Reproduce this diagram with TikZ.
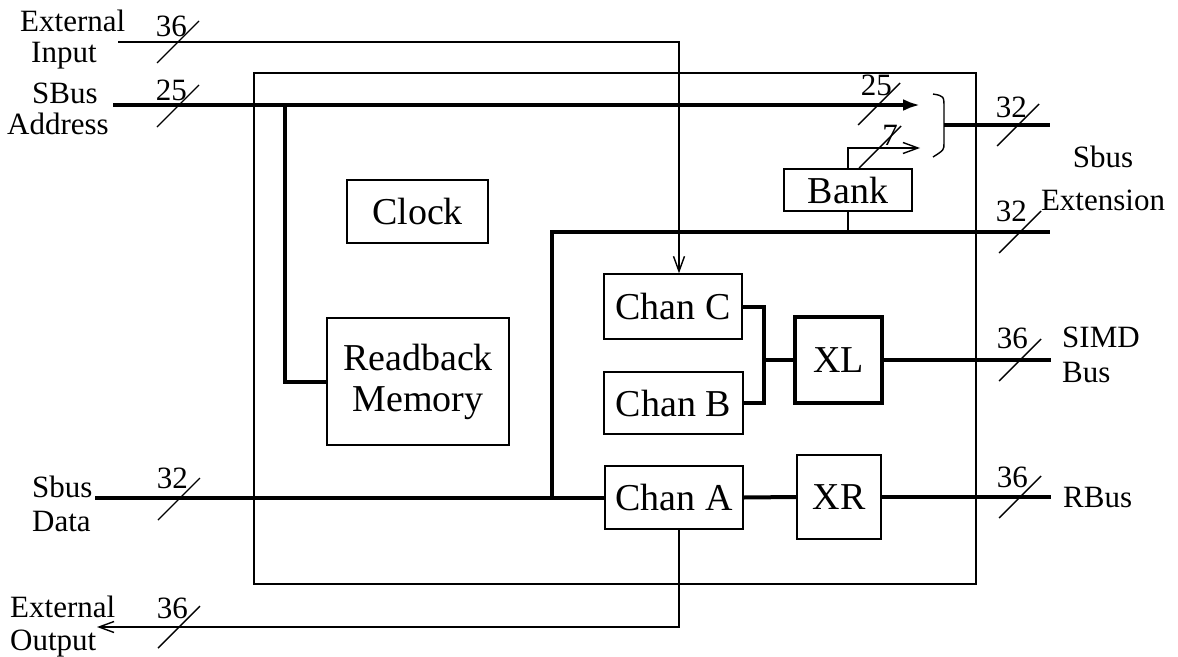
\documentclass[tikz,border=0pt]{standalone}
\usepackage{fontspec}
\setmainfont{Liberation Serif}
\usetikzlibrary{arrows.meta}
\begin{document}
\begin{tikzpicture}[x=1pt,y=-1pt,
  thinline/.style={line width=1.4pt},
  bus/.style={line width=4pt},
  blk/.style={draw,line width=1.4pt,inner sep=0pt,font=\fontsize{38}{41}\selectfont},
  lbl/.style={inner sep=0pt,font=\fontsize{31}{31}\selectfont},
  barb/.style={-{Straight Barb[length=15pt,width=11pt,line width=1.4pt]}},
  fattip/.style={-{Latex[length=17pt,width=12pt]}},
]
\useasboundingbox (0,0) rectangle (1178,656);

% board outline
\draw[thinline] (254,73) rectangle (976,584);

% functional blocks
\node[blk,minimum width=141pt,minimum height=63pt] (clock) at (417.5,211.5) {Clock};
\node[blk,minimum width=182pt,minimum height=127pt,align=center] (readback) at (418,381.5) {Readback\\Memory};
\node[blk,minimum width=128pt,minimum height=42pt] (bank) at (848,190) {Bank};
\node[blk,minimum width=138pt,minimum height=65pt] (chanC) at (673,306.5) {Chan C};
\node[blk,minimum width=139pt,minimum height=62pt] (chanB) at (673.5,403) {Chan B};
\node[blk,minimum width=138pt,minimum height=63pt] (chanA) at (674,497.5) {Chan A};
\node[blk,line width=4pt,minimum width=87pt,minimum height=86pt] (xl) at (838.5,360) {XL};
\node[blk,minimum width=84pt,minimum height=84pt] (xr) at (839,497) {XR};

% external input into channel C
\coordinate (einA) at (118,42);
\coordinate (einB) at (679,42);
\draw[thinline,barb] (einA) -- (einB) -- (einB |- chanC.north);

% SBus address, with tap to the readback memory
\coordinate (sadA) at (113,105);
\coordinate (sadB) at (920,105);
\draw[bus,fattip] (sadA) -- (sadB);
\coordinate (rbtap) at (285,105);
\draw[bus] (rbtap) |- (readback.west);

% bank register into the extension combiner
\coordinate (bankOut) at (920,148);
\draw[thinline,barb] (bank.north) |- (bankOut);
\coordinate (extTap) at (848,232);
\draw[thinline] (bank.south) -- (extTap);

% combiner brace and its output
\draw[thinline] (933,94) .. controls (944,96) .. (944,108) -- (944,143) .. controls (944,150) .. (933,157);
\coordinate (muxOut) at (944,125);
\coordinate (extA) at (1050,125);
\draw[bus] (muxOut) -- (extA);

% SBus data and the lower extension bus
\coordinate (dataIn) at (95,497.5);
\draw[bus] (dataIn) -- (chanA.west);
\coordinate (dataTap) at (552,497.5);
\coordinate (extB) at (1050,232);
\draw[bus] (dataTap) |- (extB);

% channels B/C merged into XL, channel A into XR
\coordinate (cbJoin) at (764,360);
\draw[bus] (chanC.east) -| (cbJoin) |- (chanB.east);
\draw[bus] (cbJoin) -- (xl.west);
\draw[bus] (chanA.east) -- (xr.west);
\coordinate (simdOut) at (1051,360);
\draw[bus] (xl.east) -- (simdOut);
\coordinate (rbusOut) at (1051,497);
\draw[bus] (xr.east) -- (rbusOut);

% external output from channel A
\coordinate (eoutA) at (679,627);
\coordinate (eoutB) at (97,627);
\draw[thinline,barb] (chanA.south -| eoutA) -- (eoutA) -- (eoutB);

% bus width marks
\foreach \sx/\sy in {178/42, 178/106, 879/104, 880/147, 1018/125, 1020/232, 1020/360, 1020/497, 179/499, 179/627}
  \draw[thinline] (\sx-21,\sy+21) -- (\sx+21,\sy-21);

\node[lbl,anchor=base east] (wExtIn) at (187,36) {36};
\node[lbl,anchor=base east] (wAddr) at (187,100) {25};
\node[lbl,anchor=base east] (wAddrIn) at (892,95) {25};
\node[lbl,anchor=base east] (wBank) at (898,145) {7};
\node[lbl,anchor=base east] (wExtHi) at (1027,117) {32};
\node[lbl,anchor=base east] (wExtLo) at (1027,221) {32};
\node[lbl,anchor=base east] (wSimd) at (1028,348) {36};
\node[lbl,anchor=base east] (wRbus) at (1028,487) {36};
\node[lbl,anchor=base east] (wData) at (188,488) {32};
\node[lbl,anchor=base east] (wExtOut) at (188,618) {36};

% signal names
\node[lbl,anchor=base west] (tExtIn1) at (20,31) {External};
\node[lbl,anchor=base west] (tExtIn2) at (31,62) {Input};
\node[lbl,anchor=base west] (tAddr1) at (32,103) {SBus};
\node[lbl,anchor=base west] (tAddr2) at (7,134) {Address};
\node[lbl,anchor=base west] (tData1) at (32,497) {Sbus};
\node[lbl,anchor=base west] (tData2) at (32,531) {Data};
\node[lbl,anchor=base west] (tOut1) at (10,617) {External};
\node[lbl,anchor=base west] (tOut2) at (10,650) {Output};
\node[lbl,anchor=base] (tExt1) at (1103,167) {Sbus};
\node[lbl,anchor=base] (tExt2) at (1103,210) {Extension};
\node[lbl,anchor=base west] (tSimd1) at (1062,347) {SIMD};
\node[lbl,anchor=base west] (tSimd2) at (1062,382) {Bus};
\node[lbl,anchor=base west] (tRbus) at (1063,507) {RBus};
\end{tikzpicture}
\end{document}
